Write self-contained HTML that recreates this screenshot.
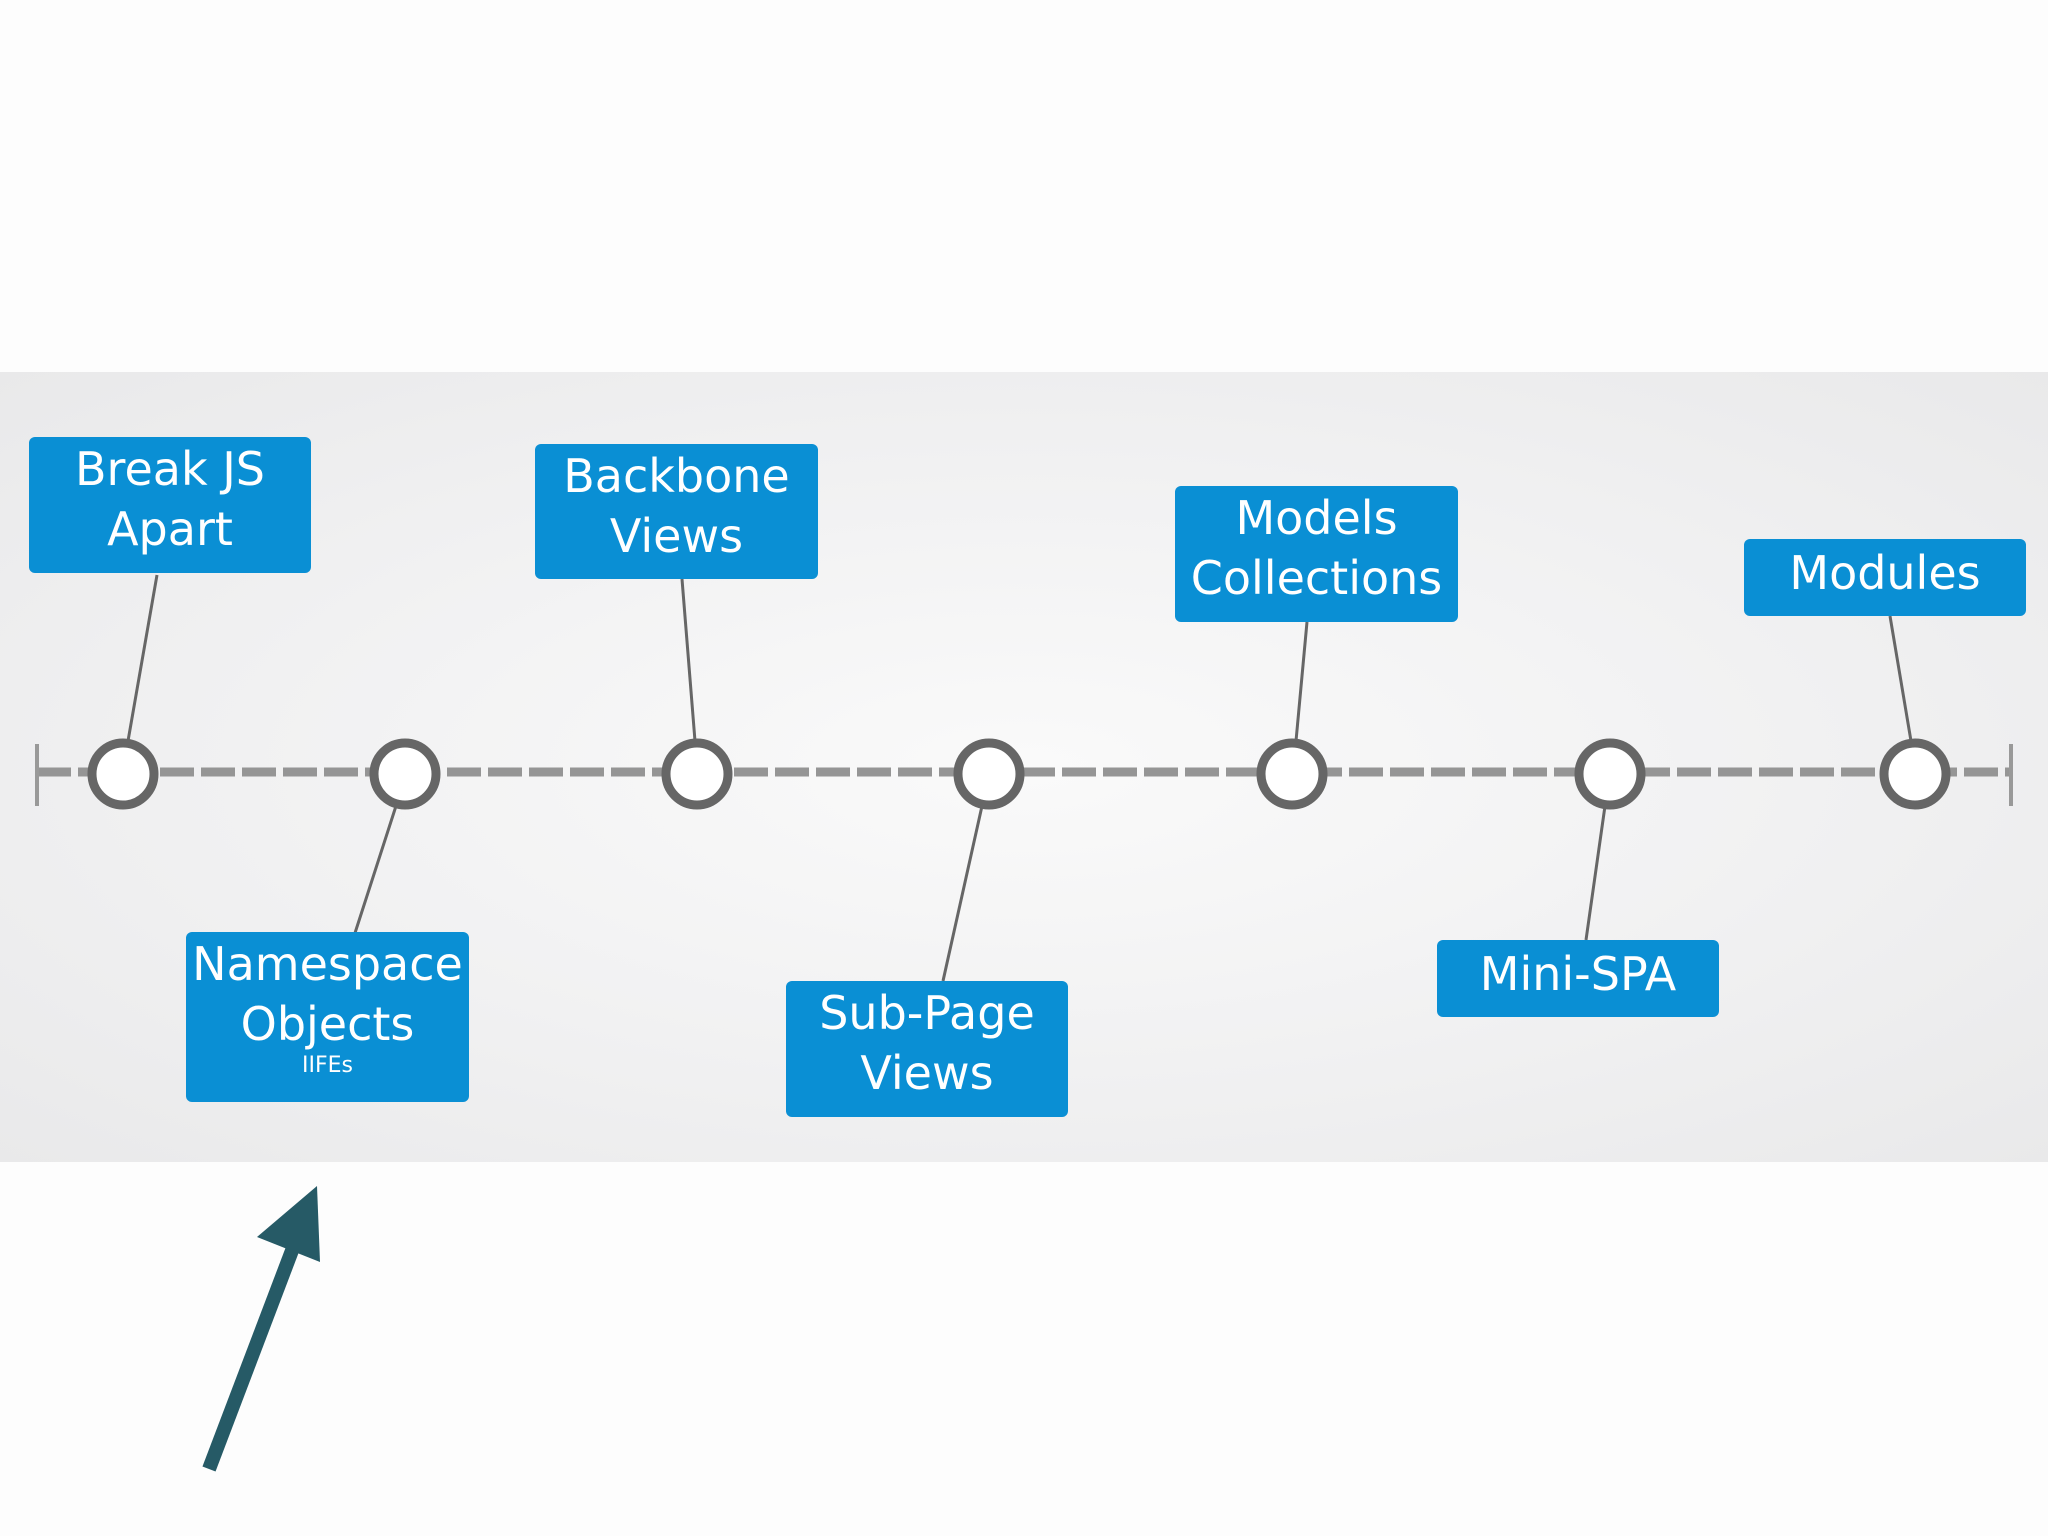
<!DOCTYPE html>
<html><head><meta charset="utf-8"><style>
html,body{margin:0;padding:0;background:#fdfdfd;}
body{width:2048px;height:1536px;position:relative;overflow:hidden;font-family:"DejaVu Sans","Liberation Sans",sans-serif;}
.band{position:absolute;left:0;top:372px;width:2048px;height:790px;background:radial-gradient(ellipse at 50% 50%,#fafafa 0%,#f0f0f1 60%,#e9e9ea 100%);}
.box{position:absolute;background:#0a8fd4;border-radius:6px;color:#fff;text-align:center;font-size:46px;line-height:60px;box-sizing:border-box;padding-top:2px;}
.small{font-size:22px;line-height:24px;display:block;}
svg{position:absolute;left:0;top:0;}
</style></head><body>
<div class="band"></div>
<svg width="2048" height="1536" viewBox="0 0 2048 1536">
  <line x1="37" y1="772" x2="2011" y2="772" stroke="#959595" stroke-width="9" stroke-dasharray="34,7"/>
  <line x1="37" y1="744" x2="37" y2="806" stroke="#999" stroke-width="4"/>
  <line x1="2011" y1="744" x2="2011" y2="806" stroke="#999" stroke-width="4"/>
  <g stroke="#666" stroke-width="3">
    <line x1="157" y1="575" x2="128" y2="741"/>
    <line x1="682" y1="579" x2="695" y2="741"/>
    <line x1="1307" y1="622" x2="1296" y2="741"/>
    <line x1="1890" y1="616" x2="1911" y2="741"/>
    <line x1="396" y1="806" x2="355" y2="933"/>
    <line x1="982" y1="806" x2="943" y2="981"/>
    <line x1="1605" y1="806" x2="1586" y2="940"/>
  </g>
  <g fill="#fff" stroke="#666" stroke-width="9">
    <circle cx="123" cy="774" r="31"/>
    <circle cx="405" cy="774" r="31"/>
    <circle cx="697" cy="774" r="31"/>
    <circle cx="989" cy="774" r="31"/>
    <circle cx="1292" cy="774" r="31"/>
    <circle cx="1610" cy="774" r="31"/>
    <circle cx="1915" cy="774" r="31"/>
  </g>
  <line x1="209" y1="1469" x2="296" y2="1240" stroke="#265a66" stroke-width="14"/>
  <polygon points="317,1186 320,1262 257,1237" fill="#265a66"/>
</svg>
<div class="box" style="left:29px;top:437px;width:282px;height:136px;">Break JS<br>Apart</div>
<div class="box" style="left:535px;top:444px;width:283px;height:135px;">Backbone<br>Views</div>
<div class="box" style="left:1175px;top:486px;width:283px;height:136px;">Models<br>Collections</div>
<div class="box" style="left:1744px;top:539px;width:282px;height:77px;padding-top:4px;">Modules</div>
<div class="box" style="left:186px;top:932px;width:283px;height:170px;">Namespace<br>Objects<span class="small">IIFEs</span></div>
<div class="box" style="left:786px;top:981px;width:282px;height:136px;">Sub-Page<br>Views</div>
<div class="box" style="left:1437px;top:940px;width:282px;height:77px;padding-top:4px;">Mini-SPA</div>
</body></html>
